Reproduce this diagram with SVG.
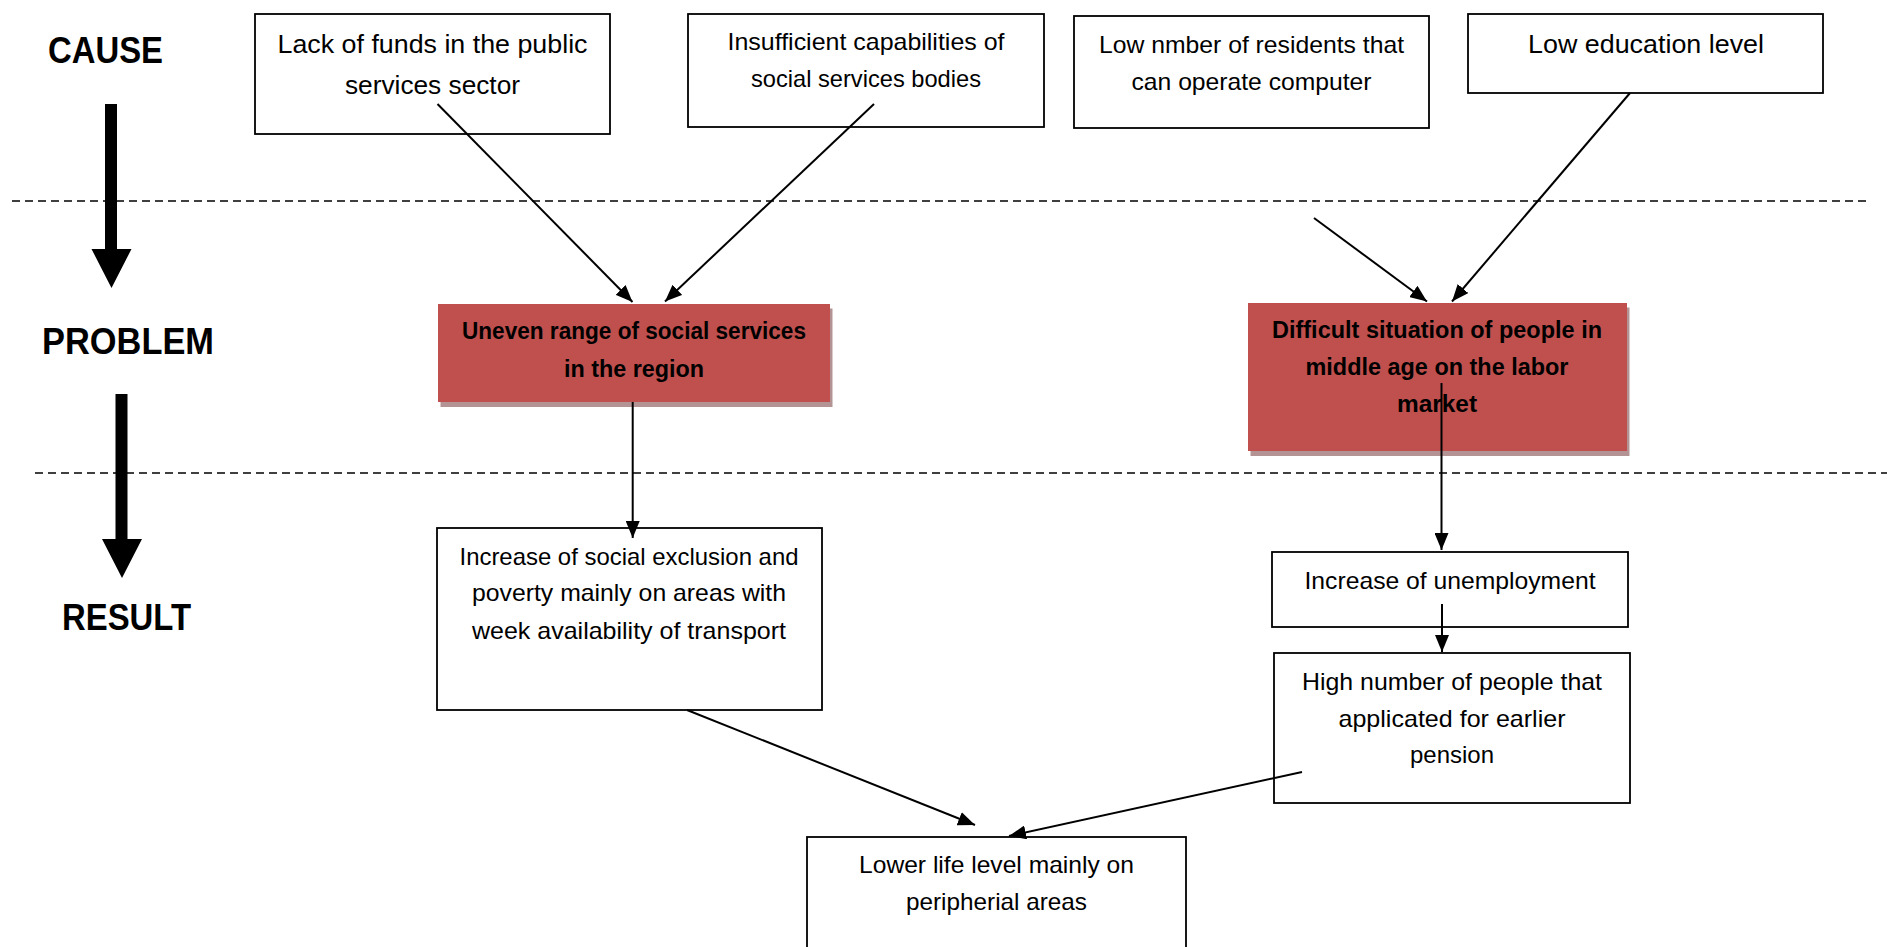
<svg xmlns="http://www.w3.org/2000/svg" width="1887" height="947" viewBox="0 0 1887 947">
<style>
text{font-family:"Liberation Sans",Arial,sans-serif;fill:#000;text-anchor:middle}
.lbl{font-weight:bold;font-size:36px;text-anchor:start}
.box{fill:#fff;stroke:#000;stroke-width:1.8}
.red{fill:#c0504d}
.shadow{fill:#b39394}
.t26{font-size:26px}
.t24{font-size:24px}
.tb{font-size:23px;font-weight:bold}
.dash{stroke:#000;stroke-width:1.6;stroke-dasharray:8 5;fill:none}
.con{stroke:#000;stroke-width:2;fill:none}
.big{fill:#000}
</style>
<defs>
<marker id="ah" viewBox="0 0 17 14" refX="17" refY="7" markerWidth="17" markerHeight="14" markerUnits="userSpaceOnUse" orient="auto">
<path d="M0,0 L17,7 L0,14 Z" fill="#000"/>
</marker>
</defs>
<rect width="1887" height="947" fill="#fff"/>

<g id="separators">
<line class="dash" x1="12" y1="201" x2="1868" y2="201"/>
<line class="dash" x1="35" y1="473" x2="1887" y2="473"/>
</g>

<g id="labels">
<text class="lbl" x="48" y="63" textLength="115" lengthAdjust="spacingAndGlyphs">CAUSE</text>
<text class="lbl" x="42" y="354" textLength="172" lengthAdjust="spacingAndGlyphs">PROBLEM</text>
<text class="lbl" x="62" y="630" textLength="129" lengthAdjust="spacingAndGlyphs">RESULT</text>
<path class="big" d="M105,104 L117,104 L117,249 L131.5,249 L111.5,288 L91.5,249 L105,249 Z"/>
<path class="big" d="M115.5,394 L127.5,394 L127.5,539 L142,539 L122,578 L102,539 L115.5,539 Z"/>
</g>

<g id="node-lack-funds">
<rect class="box" x="255" y="14" width="355" height="120"/>
<text class="t26" x="432.5" y="53" textLength="310" lengthAdjust="spacingAndGlyphs">Lack of funds in the public</text>
<text class="t26" x="432.5" y="94" textLength="175" lengthAdjust="spacingAndGlyphs">services sector</text>
</g>

<g id="node-insufficient">
<rect class="box" x="688" y="14" width="356" height="113"/>
<text class="t24" x="866" y="50" textLength="277" lengthAdjust="spacingAndGlyphs">Insufficient capabilities of</text>
<text class="t24" x="866" y="87" textLength="230" lengthAdjust="spacingAndGlyphs">social services bodies</text>
</g>

<g id="node-low-number">
<rect class="box" x="1074" y="16" width="355" height="112"/>
<text class="t24" x="1251.5" y="53" textLength="305" lengthAdjust="spacingAndGlyphs">Low nmber of residents that</text>
<text class="t24" x="1251.5" y="90" textLength="240" lengthAdjust="spacingAndGlyphs">can operate computer</text>
</g>

<g id="node-low-education">
<rect class="box" x="1468" y="14" width="355" height="79"/>
<text class="t26" x="1646" y="53" textLength="236" lengthAdjust="spacingAndGlyphs">Low education level</text>
</g>

<g id="node-uneven">
<rect class="shadow" x="440.5" y="308.5" width="392" height="98.5"/>
<rect class="red" x="438" y="304" width="392" height="98"/>
<text class="tb" x="634" y="339" textLength="344" lengthAdjust="spacingAndGlyphs">Uneven range of social services</text>
<text class="tb" x="634" y="377" textLength="140" lengthAdjust="spacingAndGlyphs">in the region</text>
</g>

<g id="node-difficult">
<rect class="shadow" x="1250.5" y="307.5" width="379" height="148.5"/>
<rect class="red" x="1248" y="303" width="379" height="148"/>
<text class="tb" x="1437" y="338" textLength="330" lengthAdjust="spacingAndGlyphs">Difficult situation of people in</text>
<text class="tb" x="1437" y="375" textLength="263" lengthAdjust="spacingAndGlyphs">middle age on the labor</text>
<text class="tb" x="1437" y="412" textLength="80" lengthAdjust="spacingAndGlyphs">market</text>
</g>

<g id="node-exclusion">
<rect class="box" x="437" y="528" width="385" height="182"/>
<text class="t24" x="629" y="565" textLength="339" lengthAdjust="spacingAndGlyphs">Increase of social exclusion and</text>
<text class="t24" x="629" y="601" textLength="314" lengthAdjust="spacingAndGlyphs">poverty mainly on areas with</text>
<text class="t24" x="629" y="639" textLength="314" lengthAdjust="spacingAndGlyphs">week availability of transport</text>
</g>

<g id="node-unemployment">
<rect class="box" x="1272" y="552" width="356" height="75"/>
<text class="t24" x="1450" y="589" textLength="291" lengthAdjust="spacingAndGlyphs">Increase of unemployment</text>
</g>

<g id="node-pension">
<rect class="box" x="1274" y="653" width="356" height="150"/>
<text class="t24" x="1452" y="690" textLength="300" lengthAdjust="spacingAndGlyphs">High number of people that</text>
<text class="t24" x="1452" y="727" textLength="227" lengthAdjust="spacingAndGlyphs">applicated for earlier</text>
<text class="t24" x="1452" y="763" textLength="84" lengthAdjust="spacingAndGlyphs">pension</text>
</g>

<g id="node-lower-life">
<rect class="box" x="807" y="837" width="379" height="140"/>
<text class="t24" x="996.5" y="873" textLength="275" lengthAdjust="spacingAndGlyphs">Lower life level mainly on</text>
<text class="t24" x="996.5" y="910" textLength="181" lengthAdjust="spacingAndGlyphs">peripherial areas</text>
</g>

<g id="connectors">
<line class="con" x1="437.5" y1="104" x2="632.5" y2="302" marker-end="url(#ah)"/>
<line class="con" x1="874" y1="104" x2="665" y2="301.5" marker-end="url(#ah)"/>
<line class="con" x1="1314" y1="218" x2="1427" y2="301.5" marker-end="url(#ah)"/>
<line class="con" x1="1630" y1="93" x2="1452" y2="301.5" marker-end="url(#ah)"/>
<line class="con" x1="632.7" y1="402" x2="632.7" y2="538" marker-end="url(#ah)"/>
<line class="con" x1="1441.5" y1="383" x2="1441.5" y2="550" marker-end="url(#ah)"/>
<line class="con" x1="1442" y1="604" x2="1442" y2="652" marker-end="url(#ah)"/>
<line class="con" x1="687" y1="710" x2="975" y2="825" marker-end="url(#ah)"/>
<line class="con" x1="1302" y1="772" x2="1009" y2="836" marker-end="url(#ah)"/>
</g>
</svg>
